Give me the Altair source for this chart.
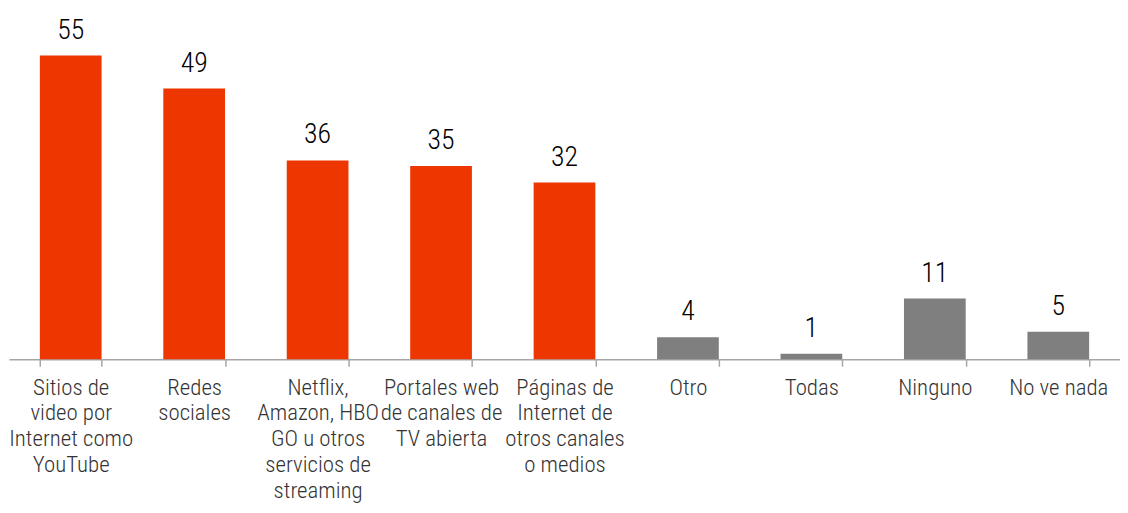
import altair as alt
import pandas as pd

categories = [
    "Sitios de|video por|Internet como|YouTube",
    "Redes|sociales",
    "Netflix,|Amazon, HBO|GO u otros|servicios de|streaming",
    "Portales web|de canales de|TV abierta",
    "Páginas de|Internet de|otros canales|o medios",
    "Otro",
    "Todas",
    "Ninguno",
    "No ve nada",
]
values = [55, 49, 36, 35, 32, 4, 1, 11, 5]
groups = ["medio", "medio", "medio", "medio", "medio", "otro", "otro", "otro", "otro"]

df = pd.DataFrame({"cat": categories, "val": values, "grp": groups})

FONT = "Liberation Sans Narrow, Arial Narrow, Roboto Condensed, DejaVu Sans Condensed, sans-serif"

x = alt.X(
    "cat:N",
    sort=categories,
    scale=alt.Scale(paddingInner=0.5, paddingOuter=0.25),
    axis=alt.Axis(
        title=None,
        labelAngle=0,
        labelExpr="split(datum.label, '|')",
        labelFont=FONT,
        labelFontSize=23,
        labelFontWeight=300,
        labelColor="#333333",
        labelLineHeight=26,
        labelLimit=0,
        labelPadding=10,
        labelBaseline="top",
        labelAlign="center",
        domainColor="#A6A6A6",
        domainWidth=1.5,
        tickColor="#A6A6A6",
        tickWidth=1.5,
        tickSize=7,
        tickBand="extent",
        labelOverlap=False,
    ),
)
y = alt.Y("val:Q", scale=alt.Scale(domain=[0, 63.26], nice=False, zero=True), axis=None)

bars = alt.Chart(df).mark_bar().encode(
    x=x,
    y=y,
    color=alt.Color(
        "grp:N",
        scale=alt.Scale(domain=["medio", "otro"], range=["#EE3700", "#7F7F7F"]),
        legend=None,
    ),
)

text = alt.Chart(df).mark_text(
    baseline="alphabetic", dy=-17, fontSize=28, fontWeight=300, font=FONT, color="#000000"
).encode(x=alt.X("cat:N", sort=categories), y=y, text="val:Q")

chart = (
    alt.layer(bars, text)
    .properties(
        width=1119,
        height=352,
        autosize=alt.AutoSizeParams(type="none"),
        padding={"left": 1, "top": 0, "right": 0, "bottom": 145},
    )
    .configure_view(stroke=None)
)

chart.save("out.html", embed_options={"renderer": "svg", "actions": False})
